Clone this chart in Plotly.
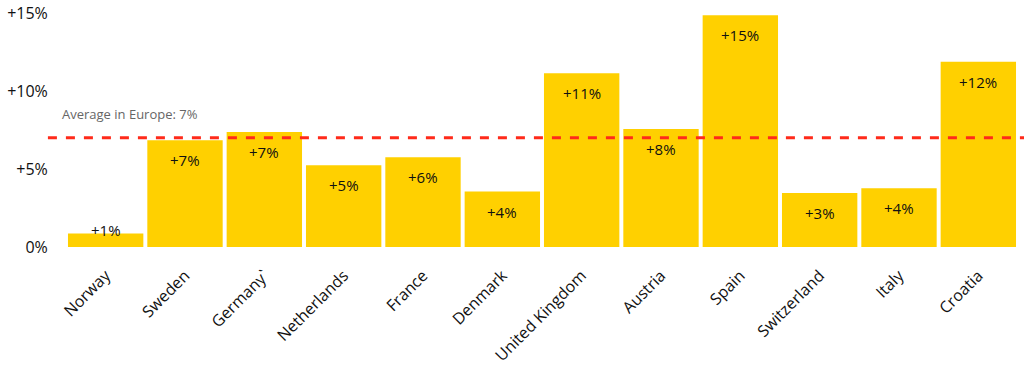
import plotly.graph_objects as go

countries = ["Norway", "Sweden", "Germany`", "Netherlands", "France", "Denmark",
             "United Kingdom", "Austria", "Spain", "Switzerland", "Italy", "Croatia"]
growth = [0.86, 6.84, 7.37, 5.24, 5.75, 3.55, 11.13, 7.56, 14.85, 3.46, 3.76, 11.88]
labels = ["+1%", "+7%", "+7%", "+5%", "+6%", "+4%", "+11%", "+8%", "+15%", "+3%", "+4%", "+12%"]
average = 7.0
avg_label = "Average in Europe: 7%"
ytick_vals = [0, 5, 10, 15]
ytick_text = ["0%", "+5%", "+10%", "+15%"]

FONT = "Open Sans"

fig = go.Figure()
fig.add_trace(go.Bar(
    x=countries, y=growth,
    marker=dict(color="#ffd000", line=dict(width=0)),
    hoverinfo="skip",
))

for c, v, t in zip(countries, growth, labels):
    inside = v > 2
    fig.add_annotation(
        x=c, y=v, text=t, showarrow=False,
        yshift=-20 if inside else 4,
        font=dict(family=FONT, size=15, color="#111111"),
    )

fig.add_shape(type="line", xref="paper", yref="y",
              x0=-0.019, x1=1.01, y0=average, y1=average,
              line=dict(color="#ff2a1a", width=3, dash="dash"))
fig.add_annotation(xref="paper", yref="y", x=-0.006, y=average, yshift=24,
                   xanchor="left", text=avg_label, showarrow=False,
                   font=dict(family=FONT, size=13, color="#666666"))

fig.update_layout(
    width=1024, height=367,
    margin=dict(l=66, r=6, t=13, b=120, autoexpand=False),
    paper_bgcolor="white", plot_bgcolor="white",
    showlegend=False,
    bargap=0.05,
    font=dict(family=FONT, color="#111111"),
)
fig.update_xaxes(tickangle=-45, tickfont=dict(family=FONT, size=16, color="#111111"),
                 showgrid=False, showline=False, automargin=False,
                 ticks="outside", ticklen=12, tickcolor="rgba(0,0,0,0)")
fig.update_yaxes(range=[0, 15], tickvals=ytick_vals, ticktext=ytick_text,
                 tickfont=dict(family=FONT, size=16, color="#111111"),
                 showgrid=False, zeroline=False, showline=False, automargin=False,
                 ticks="outside", ticklen=14, tickcolor="rgba(0,0,0,0)")

fig.write_html("out.html",
               config={"displayModeBar": False},
               post_script="document.body.style.margin='0px';")
